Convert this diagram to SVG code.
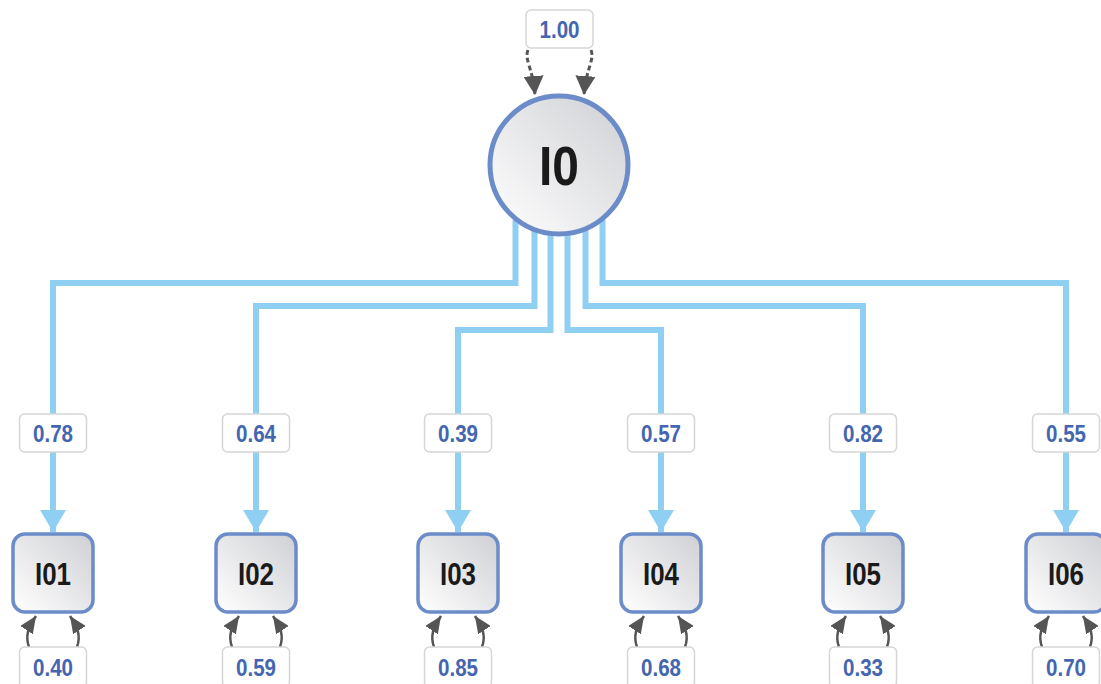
<svg xmlns="http://www.w3.org/2000/svg" width="1101" height="684" viewBox="0 0 1101 684">
<style>
.conn{fill:none;stroke:#8fd0f2;stroke-width:6;stroke-linejoin:miter}
.res{fill:none;stroke:#555;stroke-width:2.5}
.dash{fill:none;stroke:#555;stroke-width:3;stroke-dasharray:5 3}
.node{fill:url(#g);stroke:#6b8cc9;stroke-width:3.5}
.lbl{fill:#fff;stroke:#d6d6d6;stroke-width:1.5}
.lt{font-family:"Liberation Sans",Arial,sans-serif;font-weight:bold;font-size:24px;fill:#4466b0;text-anchor:middle}
.nt{font-family:"Liberation Sans",Arial,sans-serif;font-weight:bold;font-size:32px;fill:#1a1a1a;text-anchor:middle}
</style>
<defs>
<linearGradient id="g" x1="0" y1="1" x2="1" y2="0">
<stop offset="0" stop-color="#ffffff"/>
<stop offset="1" stop-color="#cfd0d4"/>
</linearGradient>
<marker id="ab" markerUnits="userSpaceOnUse" markerWidth="22" markerHeight="26" refX="22" refY="13" orient="auto" viewBox="0 0 22 26">
<path d="M0 0 L22 13 L0 26 Z" fill="#8fd0f2"/>
</marker>
<marker id="ag" markerUnits="userSpaceOnUse" markerWidth="17" markerHeight="15" refX="17" refY="7.5" orient="auto" viewBox="0 0 17 15">
<path d="M0 0 L17 7.5 L0 15 Z" fill="#555"/>
</marker>
<marker id="ag2" markerUnits="userSpaceOnUse" markerWidth="19" markerHeight="20" refX="19" refY="10" orient="auto" viewBox="0 0 19 20">
<path d="M0 0 L19 10 L0 20 Z" fill="#555"/>
</marker>
</defs>
<g id="connectors">
<path class="conn" d="M515.5 220 V283 H53 V532" marker-end="url(#ab)"/>
<path class="conn" d="M534.5 220 V306 H256 V532" marker-end="url(#ab)"/>
<path class="conn" d="M550.5 220 V330 H458 V532" marker-end="url(#ab)"/>
<path class="conn" d="M567.5 220 V330 H661 V532" marker-end="url(#ab)"/>
<path class="conn" d="M585.5 220 V306 H863 V532" marker-end="url(#ab)"/>
<path class="conn" d="M602.5 220 V283 H1066 V532" marker-end="url(#ab)"/>
<path class="dash" d="M528 50 C524 60 533 68 535 95" marker-end="url(#ag2)"/>
<path class="dash" d="M591 50 C595 60 586 68 584 95" marker-end="url(#ag2)"/>
</g>
<g id="I0">
<circle cx="559" cy="165" r="69" class="node" style="stroke-width:5"/>
<text x="559" y="185" class="nt" style="font-size:56px" textLength="40" lengthAdjust="spacingAndGlyphs">I0</text>
</g>
<g id="label-var">
<rect x="526" y="10" width="67" height="38" rx="5" class="lbl"/>
<text x="559.5" y="38" class="lt" textLength="40" lengthAdjust="spacingAndGlyphs">1.00</text>
</g>
<g id="I01">
<rect x="13" y="534" width="80" height="78" rx="12" class="node"/>
<text x="53" y="585" class="nt" textLength="36" lengthAdjust="spacingAndGlyphs">I01</text>
<rect x="19.5" y="414" width="67" height="38" rx="5" class="lbl"/>
<text x="53" y="442" class="lt" textLength="40" lengthAdjust="spacingAndGlyphs">0.78</text>
<path class="res" d="M29 647 C25 636 28 628 36 616" marker-end="url(#ag)"/>
<path class="res" d="M77 647 C81 636 78 628 70 616" marker-end="url(#ag)"/>
<rect x="19.5" y="647" width="67" height="40" rx="5" class="lbl"/>
<text x="53" y="676" class="lt" textLength="40" lengthAdjust="spacingAndGlyphs">0.40</text>
</g>
<g id="I02">
<rect x="216" y="534" width="80" height="78" rx="12" class="node"/>
<text x="256" y="585" class="nt" textLength="36" lengthAdjust="spacingAndGlyphs">I02</text>
<rect x="222.5" y="414" width="67" height="38" rx="5" class="lbl"/>
<text x="256" y="442" class="lt" textLength="40" lengthAdjust="spacingAndGlyphs">0.64</text>
<path class="res" d="M232 647 C228 636 231 628 239 616" marker-end="url(#ag)"/>
<path class="res" d="M280 647 C284 636 281 628 273 616" marker-end="url(#ag)"/>
<rect x="222.5" y="647" width="67" height="40" rx="5" class="lbl"/>
<text x="256" y="676" class="lt" textLength="40" lengthAdjust="spacingAndGlyphs">0.59</text>
</g>
<g id="I03">
<rect x="418" y="534" width="80" height="78" rx="12" class="node"/>
<text x="458" y="585" class="nt" textLength="36" lengthAdjust="spacingAndGlyphs">I03</text>
<rect x="424.5" y="414" width="67" height="38" rx="5" class="lbl"/>
<text x="458" y="442" class="lt" textLength="40" lengthAdjust="spacingAndGlyphs">0.39</text>
<path class="res" d="M434 647 C430 636 433 628 441 616" marker-end="url(#ag)"/>
<path class="res" d="M482 647 C486 636 483 628 475 616" marker-end="url(#ag)"/>
<rect x="424.5" y="647" width="67" height="40" rx="5" class="lbl"/>
<text x="458" y="676" class="lt" textLength="40" lengthAdjust="spacingAndGlyphs">0.85</text>
</g>
<g id="I04">
<rect x="621" y="534" width="80" height="78" rx="12" class="node"/>
<text x="661" y="585" class="nt" textLength="36" lengthAdjust="spacingAndGlyphs">I04</text>
<rect x="627.5" y="414" width="67" height="38" rx="5" class="lbl"/>
<text x="661" y="442" class="lt" textLength="40" lengthAdjust="spacingAndGlyphs">0.57</text>
<path class="res" d="M637 647 C633 636 636 628 644 616" marker-end="url(#ag)"/>
<path class="res" d="M685 647 C689 636 686 628 678 616" marker-end="url(#ag)"/>
<rect x="627.5" y="647" width="67" height="40" rx="5" class="lbl"/>
<text x="661" y="676" class="lt" textLength="40" lengthAdjust="spacingAndGlyphs">0.68</text>
</g>
<g id="I05">
<rect x="823" y="534" width="80" height="78" rx="12" class="node"/>
<text x="863" y="585" class="nt" textLength="36" lengthAdjust="spacingAndGlyphs">I05</text>
<rect x="829.5" y="414" width="67" height="38" rx="5" class="lbl"/>
<text x="863" y="442" class="lt" textLength="40" lengthAdjust="spacingAndGlyphs">0.82</text>
<path class="res" d="M839 647 C835 636 838 628 846 616" marker-end="url(#ag)"/>
<path class="res" d="M887 647 C891 636 888 628 880 616" marker-end="url(#ag)"/>
<rect x="829.5" y="647" width="67" height="40" rx="5" class="lbl"/>
<text x="863" y="676" class="lt" textLength="40" lengthAdjust="spacingAndGlyphs">0.33</text>
</g>
<g id="I06">
<rect x="1026" y="534" width="80" height="78" rx="12" class="node"/>
<text x="1066" y="585" class="nt" textLength="36" lengthAdjust="spacingAndGlyphs">I06</text>
<rect x="1032.5" y="414" width="67" height="38" rx="5" class="lbl"/>
<text x="1066" y="442" class="lt" textLength="40" lengthAdjust="spacingAndGlyphs">0.55</text>
<path class="res" d="M1042 647 C1038 636 1041 628 1049 616" marker-end="url(#ag)"/>
<path class="res" d="M1090 647 C1094 636 1091 628 1083 616" marker-end="url(#ag)"/>
<rect x="1032.5" y="647" width="67" height="40" rx="5" class="lbl"/>
<text x="1066" y="676" class="lt" textLength="40" lengthAdjust="spacingAndGlyphs">0.70</text>
</g>
</svg>
